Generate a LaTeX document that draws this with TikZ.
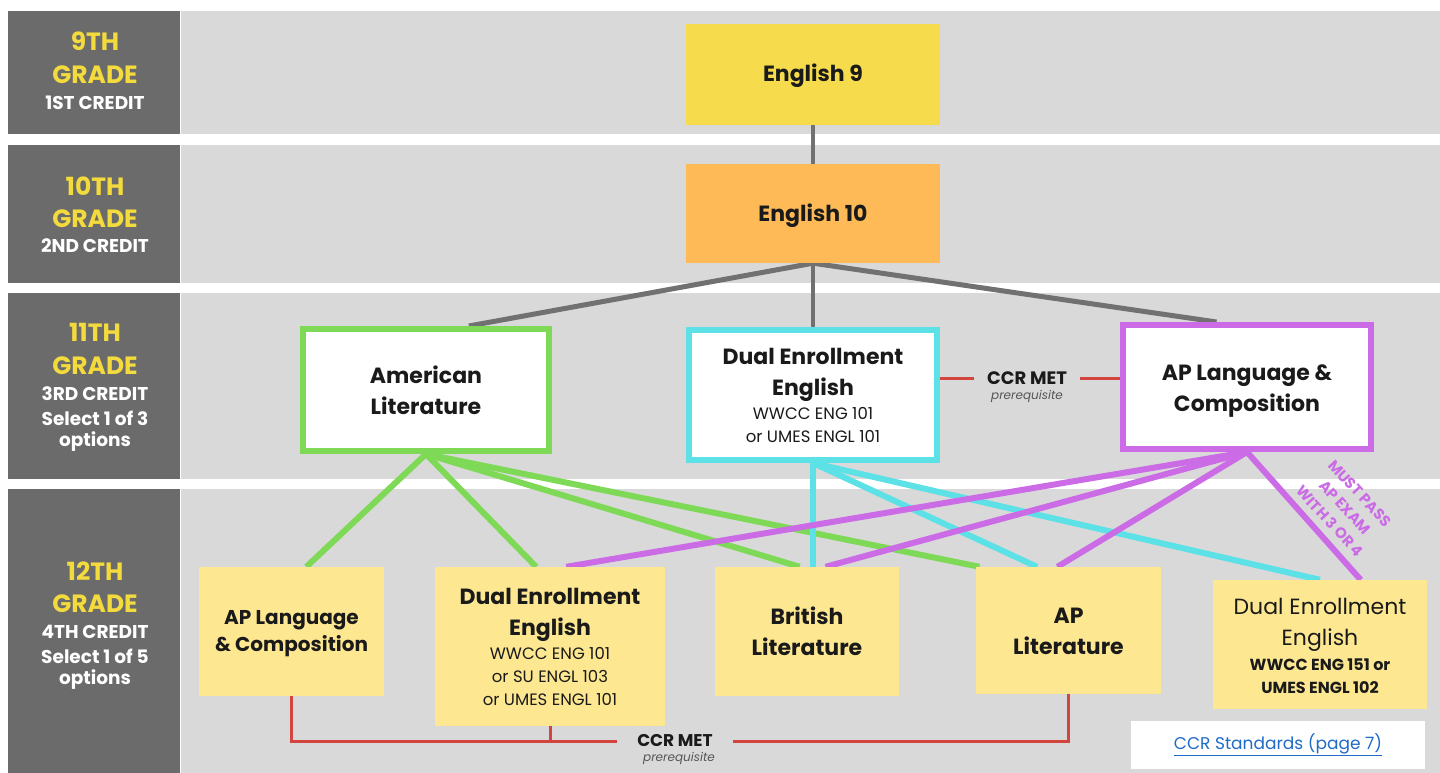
\documentclass[tikz,border=0pt]{standalone}
\usepackage{fontspec}
\setmainfont{Poppins}
\usetikzlibrary{calc}
\definecolor{sidegrey}{HTML}{6B6B6B}
\definecolor{bandgrey}{HTML}{D9D9D9}
\definecolor{gradeyellow}{HTML}{F3DA3D}
\definecolor{engnine}{HTML}{F6DC4C}
\definecolor{engten}{HTML}{FDBA57}
\definecolor{lgreen}{HTML}{7ED957}
\definecolor{lcyan}{HTML}{5CE1E6}
\definecolor{lpurple}{HTML}{CB6CE6}
\definecolor{boxyellow}{HTML}{FDE891}
\definecolor{ccrred}{HTML}{D2463F}
\definecolor{lgrey}{HTML}{717171}
\definecolor{linkblue}{HTML}{1F6BC7}
\definecolor{txt}{HTML}{1A1A1A}
\definecolor{pretxt}{HTML}{555555}
\pgfdeclarelayer{bg}
\pgfdeclarelayer{lines}
\pgfsetlayers{bg,lines,main}
\begin{document}
\begin{tikzpicture}[x=1pt,y=-1pt,
  gradetxt/.style={anchor=base,inner sep=0,text=gradeyellow,font=\fontsize{25}{25}\selectfont\bfseries},
  credtxt/.style={anchor=base,inner sep=0,text=white,font=\fontsize{18.5}{18.5}\selectfont\bfseries},
  bigtxt/.style={anchor=base,inner sep=0,text=txt,font=\fontsize{22}{22}\selectfont\bfseries},
  midtxt/.style={anchor=base,inner sep=0,text=txt,font=\fontsize{20}{20}\selectfont\bfseries},
  smalltxt/.style={anchor=base,inner sep=0,text=txt,font=\fontsize{16.5}{16.5}\selectfont},
  regtxt/.style={anchor=base,inner sep=0,text=txt,font=\fontsize{22}{22}\selectfont},
  smallbold/.style={anchor=base,inner sep=0,text=txt,font=\fontsize{16}{16}\selectfont\bfseries},
  pretext/.style={anchor=base,inner sep=0,text=pretxt,font=\fontsize{12}{12}\selectfont\itshape},
  musttxt/.style={anchor=base,rotate=-47,inner sep=0,text=lpurple,font=\fontsize{15}{15}\selectfont\bfseries},
  rowbox/.style={draw=#1,line width=6pt,fill=white,inner sep=0},
  fillbox/.style={fill=#1,draw=none,inner sep=0},
  gc/.style={draw=lgrey,line width=5pt},
  gl/.style={draw=lgreen,line width=6pt},
  cl/.style={draw=lcyan,line width=6pt},
  pl/.style={draw=lpurple,line width=6pt},
  rl/.style={draw=ccrred,line width=3pt}
]
\useasboundingbox (0,0) rectangle (1440,773);
\begin{pgfonlayer}{bg}
\fill[white] (0,0) rectangle (1440,773);
\fill[sidegrey] (8,11) rectangle (180,134);
\fill[bandgrey] (181,11) rectangle (1440,134);
\fill[sidegrey] (8,145) rectangle (180,283);
\fill[bandgrey] (181,145) rectangle (1440,283);
\fill[sidegrey] (8,293) rectangle (180,479);
\fill[bandgrey] (181,293) rectangle (1440,479);
\fill[sidegrey] (8,489) rectangle (180,773);
\fill[bandgrey] (181,489) rectangle (1440,773);
\end{pgfonlayer}

% grade labels
\node[gradetxt] (g9a) at (95,51) {9TH};
\node[gradetxt] (g9b) at (95,84) {GRADE};
\node[credtxt] (g9c) at (95,110) {1ST CREDIT};
\node[gradetxt] (g10a) at (95,195) {10TH};
\node[gradetxt] (g10b) at (95,227) {GRADE};
\node[credtxt] (g10c) at (95,252) {2ND CREDIT};
\node[gradetxt] (g11a) at (95,341) {11TH};
\node[gradetxt] (g11b) at (95,374) {GRADE};
\node[credtxt] (g11c) at (95,400) {3RD CREDIT};
\node[credtxt] (g11d) at (95,425) {Select 1 of 3};
\node[credtxt] (g11e) at (95,446) {options};
\node[gradetxt] (g12a) at (95,580) {12TH};
\node[gradetxt] (g12b) at (95,612) {GRADE};
\node[credtxt] (g12c) at (95,638) {4TH CREDIT};
\node[credtxt] (g12d) at (95,663) {Select 1 of 5};
\node[credtxt] (g12e) at (95,684) {options};

% boxes
\node[fillbox=engnine,minimum width=254,minimum height=101] (e9) at (813,74.5) {};
\node[fillbox=engten,minimum width=254,minimum height=99] (e10) at (813,213.5) {};
\node[rowbox=lgreen,minimum width=246,minimum height=122] (am) at (426,390) {};
\node[rowbox=lcyan,minimum width=248,minimum height=130] (dual) at (813,395) {};
\node[rowbox=lpurple,minimum width=248,minimum height=124] (apl) at (1247,387) {};
\node[fillbox=boxyellow,minimum width=185,minimum height=129] (apl4) at (291.5,631.5) {};
\node[fillbox=boxyellow,minimum width=230,minimum height=159] (dual4) at (550,646.5) {};
\node[fillbox=boxyellow,minimum width=184,minimum height=129] (brit) at (807,631.5) {};
\node[fillbox=boxyellow,minimum width=185,minimum height=127] (aplit) at (1068.5,630.5) {};
\node[fillbox=boxyellow,minimum width=214,minimum height=129] (dualr) at (1320,644.5) {};

% box texts
\node[bigtxt] (t-e9) at (813,82) {English 9};
\node[bigtxt] (t-e10) at (813,221) {English 10};
\node[bigtxt] (t-am1) at (426,383) {American};
\node[bigtxt] (t-am2) at (426,414) {Literature};
\node[bigtxt] (t-du1) at (813,364) {Dual Enrollment};
\node[bigtxt] (t-du2) at (813,395) {English};
\node[smalltxt] (t-du3) at (813,419) {WWCC ENG 101};
\node[smalltxt] (t-du4) at (813,442) {or UMES ENGL 101};
\node[bigtxt] (t-ap1) at (1247,380) {AP Language \&};
\node[bigtxt] (t-ap2) at (1247,411) {Composition};
\node[midtxt] (t-a41) at (291.5,624) {AP Language};
\node[midtxt] (t-a42) at (291.5,651) {\& Composition};
\node[bigtxt] (t-d41) at (550,604) {Dual Enrollment};
\node[bigtxt] (t-d42) at (550,635) {English};
\node[smalltxt] (t-d43) at (550,659) {WWCC ENG 101};
\node[smalltxt] (t-d44) at (550,682) {or SU ENGL 103};
\node[smalltxt] (t-d45) at (550,705) {or UMES ENGL 101};
\node[bigtxt] (t-b1) at (807,624) {British};
\node[bigtxt] (t-b2) at (807,655) {Literature};
\node[bigtxt] (t-l1) at (1068.5,623) {AP};
\node[bigtxt] (t-l2) at (1068.5,654) {Literature};
\node[regtxt] (t-r1) at (1320,614) {Dual Enrollment};
\node[regtxt] (t-r2) at (1320,645) {English};
\node[smallbold] (t-r3) at (1320,670) {WWCC ENG 151 or};
\node[smallbold] (t-r4) at (1320,693) {UMES ENGL 102};

% CCR labels
\node[inner sep=0,minimum width=105,text=txt,font=\fontsize{18}{18}\selectfont\bfseries] (ccr1) at (1027,378) {CCR MET};
\node[pretext] (pre1) at (1027,399) {prerequisite};
\node[inner sep=0,minimum width=116,text=txt,font=\fontsize{17}{17}\selectfont\bfseries] (ccr2) at (675,741) {CCR MET};
\node[pretext] (pre2) at (679,761) {prerequisite};

% must pass (three rotated lines, about 20px apart)
\node[musttxt] (must1) at (1356,497) {MUST PASS};
\node[musttxt] (must2) at (1341,511) {AP EXAM};
\node[musttxt] (must3) at (1326,525) {WITH 3 OR 4};

% link
\node[fill=white,inner sep=0,minimum width=294,minimum height=48,text=linkblue,font=\fontsize{17}{17}\selectfont] (link) at (1278,745) {\underline{CCR Standards (page 7)}};

\begin{pgfonlayer}{lines}
\draw[gc,line width=4pt] (e9) -- (e10);
\draw[gc] (e10.south) -- ($(am.north west)!0.67!(am.north east)$);
\draw[gc,line width=4pt] (e10.south) -- (dual.north);
\draw[gc] (e10.south) -- ($(apl.north west)!0.38!(apl.north east)$);
% green
\draw[gl] (am.south) -- ($(apl4.north west)!0.58!(apl4.north east)$);
\draw[gl] (am.south) -- ($(dual4.north west)!0.44!(dual4.north east)$);
\draw[gl] (am.south) -- ($(brit.north west)!0.46!(brit.north east)$);
\draw[gl] (am.south) -- ($(aplit.north west)!0.02!(aplit.north east)$);
% cyan
\draw[cl] (dual.south) -- (dual.south |- brit.north);
\draw[cl] (dual.south) -- ($(aplit.north west)!0.33!(aplit.north east)$);
\draw[cl] (dual.south) -- (dualr.north);
% purple
\draw[pl] (apl.south) -- ($(dual4.north west)!0.57!(dual4.north east)$);
\draw[pl] (apl.south) -- ($(brit.north west)!0.6!(brit.north east)$);
\draw[pl] (apl.south) -- ($(aplit.north west)!0.44!(aplit.north east)$);
\draw[pl] (apl.south) -- ($(dualr.north west)!0.69!(dualr.north east)$);
% red
\draw[rl] (ccr1.west) -- (ccr1.west -| dual.east);
\draw[rl] (ccr1.east) -- (ccr1.east -| apl.west);
\draw[rl] (apl4.south) |- (ccr2.west);
\draw[rl] (dual4.south) -- (dual4.south |- ccr2.west);
\draw[rl] (aplit.south) |- (ccr2.east);
\end{pgfonlayer}
\end{tikzpicture}
\end{document}
